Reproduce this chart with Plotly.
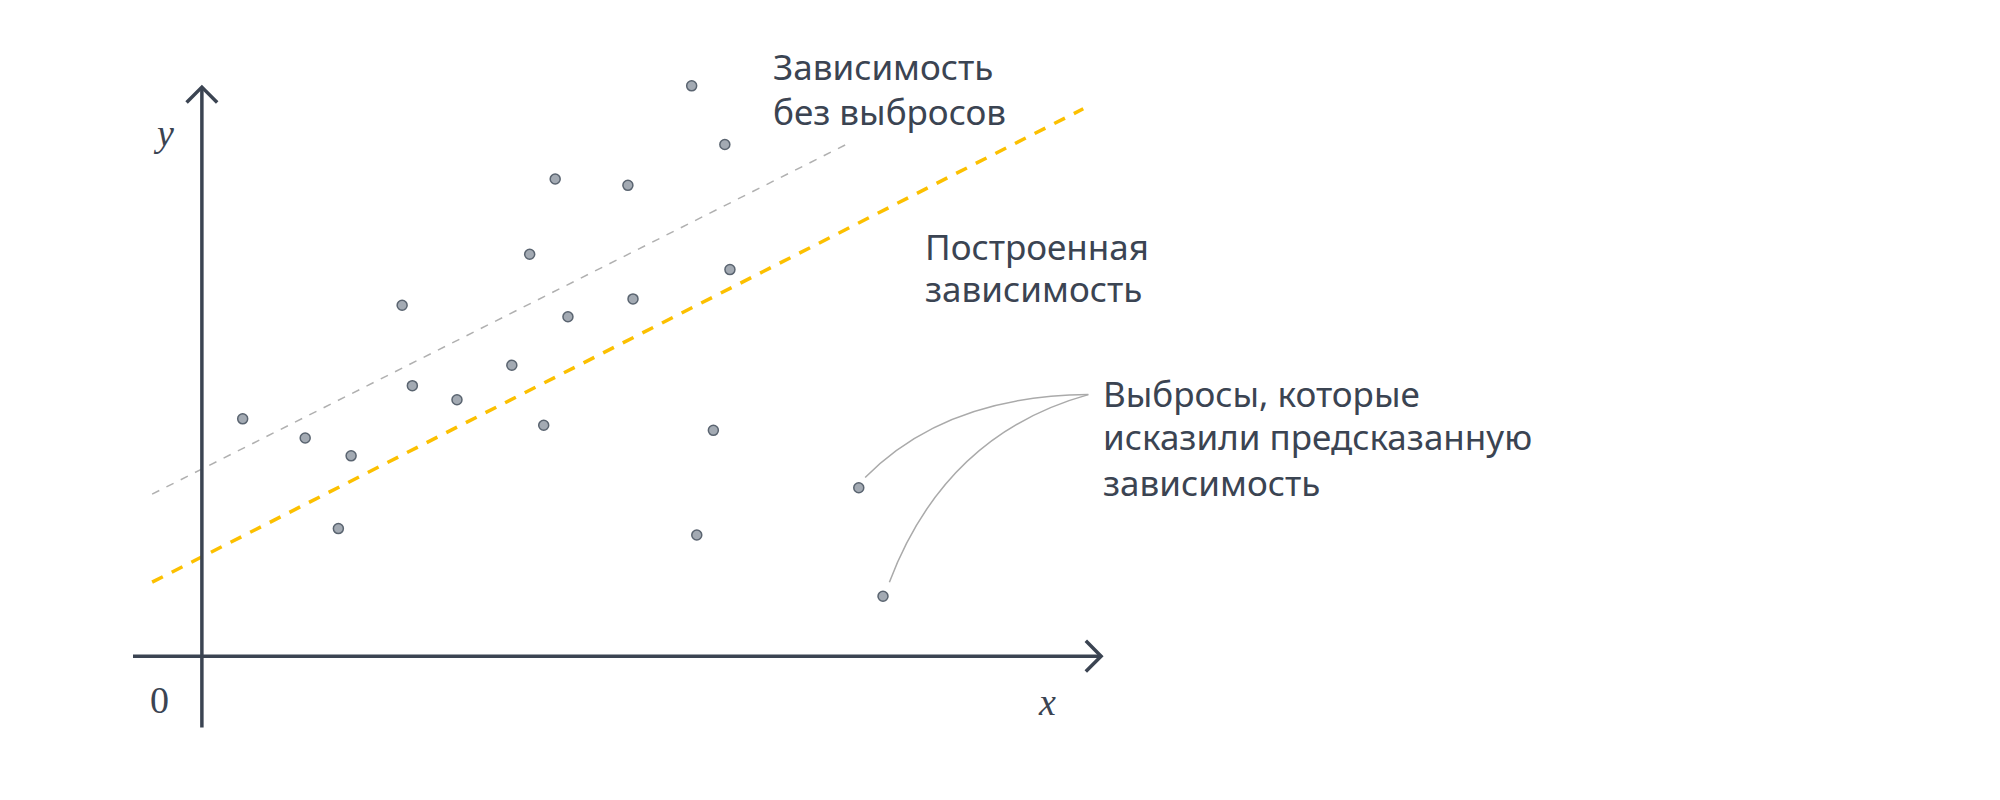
import plotly.graph_objects as go

# data (units: origin at axis crossing)
pts_x = [3.2, 8.1, 11.7, 10.7, 15.7, 16.5, 20.0, 24.3, 25.7, 26.8, 27.7, 28.7, 33.4, 33.8, 38.4, 38.8, 40.1, 41.0, 41.4, 51.5, 53.4]
pts_y = [18.6, 17.1, 15.7, 10.0, 27.5, 21.2, 20.1, 22.8, 31.5, 18.1, 37.4, 26.6, 36.9, 28.0, 44.7, 9.5, 17.7, 40.1, 30.3, 13.2, 4.7]
fit_x = [-3.9, 69.1]
fit_y = [5.8, 42.9]
clean_x = [-3.9, 50.5]
clean_y = [12.7, 40.1]

DARK = "#3b4452"
fig = go.Figure()
fig.add_trace(go.Scatter(x=clean_x, y=clean_y, mode="lines",
                         line=dict(color="#b0b0b0", width=1.5, dash="8px,8px"), hoverinfo="skip"))
fig.add_trace(go.Scatter(x=fit_x, y=fit_y, mode="lines",
                         line=dict(color="#fcc000", width=3.5, dash="12px,10px"), hoverinfo="skip"))
fig.add_trace(go.Scatter(x=pts_x, y=pts_y, mode="markers",
                         marker=dict(size=10, color="#a3aab3", line=dict(color="#5a6470", width=1.5))))

shapes = [
    dict(type="line", x0=-5.4, y0=0, x1=70.5, y1=0, line=dict(color=DARK, width=3.5)),
    dict(type="line", x0=0, y0=-5.6, x1=0, y1=44.6, line=dict(color=DARK, width=3.5)),
    dict(type="path", path="M 69.3,1.2 L 70.5,0 L 69.3,-1.2", line=dict(color=DARK, width=3.5)),
    dict(type="path", path="M -1.2,43.4 L 0,44.6 L 1.2,43.4", line=dict(color=DARK, width=3.5)),
    dict(type="path", path="M 52.0,14.0 Q 58.3,20.4 69.5,20.5", line=dict(color="#aaaaaa", width=1.5)),
    dict(type="path", path="M 53.9,5.8 Q 58.3,17.4 69.5,20.5", line=dict(color="#aaaaaa", width=1.5)),
]
F = "Noto Sans"
def t(x, y, s, size=35, family=F, italic=False):
    return dict(x=x, y=y, text=(f"<i>{s}</i>" if italic else s), showarrow=False,
                xanchor="left", yanchor="middle", font=dict(family=family, size=size, color=DARK))
ann = [
    t(44.6, 46.2, "Зависимость"), t(44.6, 42.7, "без выбросов"),
    t(56.5, 32.1, "Построенная"), t(56.5, 28.8, "зависимость"),
    t(70.5, 20.6, "Выбросы, которые"), t(70.5, 17.2, "исказили предсказанную"), t(70.5, 13.6, "зависимость"),
    t(-4.0, 41.0, "y", 38, "Liberation Serif", True),
    t(-4.2, -3.4, "0", 38, "Liberation Serif"),
    t(65.4, -3.6, "x", 38, "Liberation Serif", True),
]
fig.update_layout(width=2000, height=800, margin=dict(l=0, r=0, t=0, b=0),
                  paper_bgcolor="white", plot_bgcolor="white", showlegend=False,
                  shapes=shapes, annotations=ann,
                  xaxis=dict(range=[-15.2, 141.6], visible=False, fixedrange=True),
                  yaxis=dict(range=[-11.9, 50.8], visible=False, fixedrange=True))
fig.write_html("out.html")
